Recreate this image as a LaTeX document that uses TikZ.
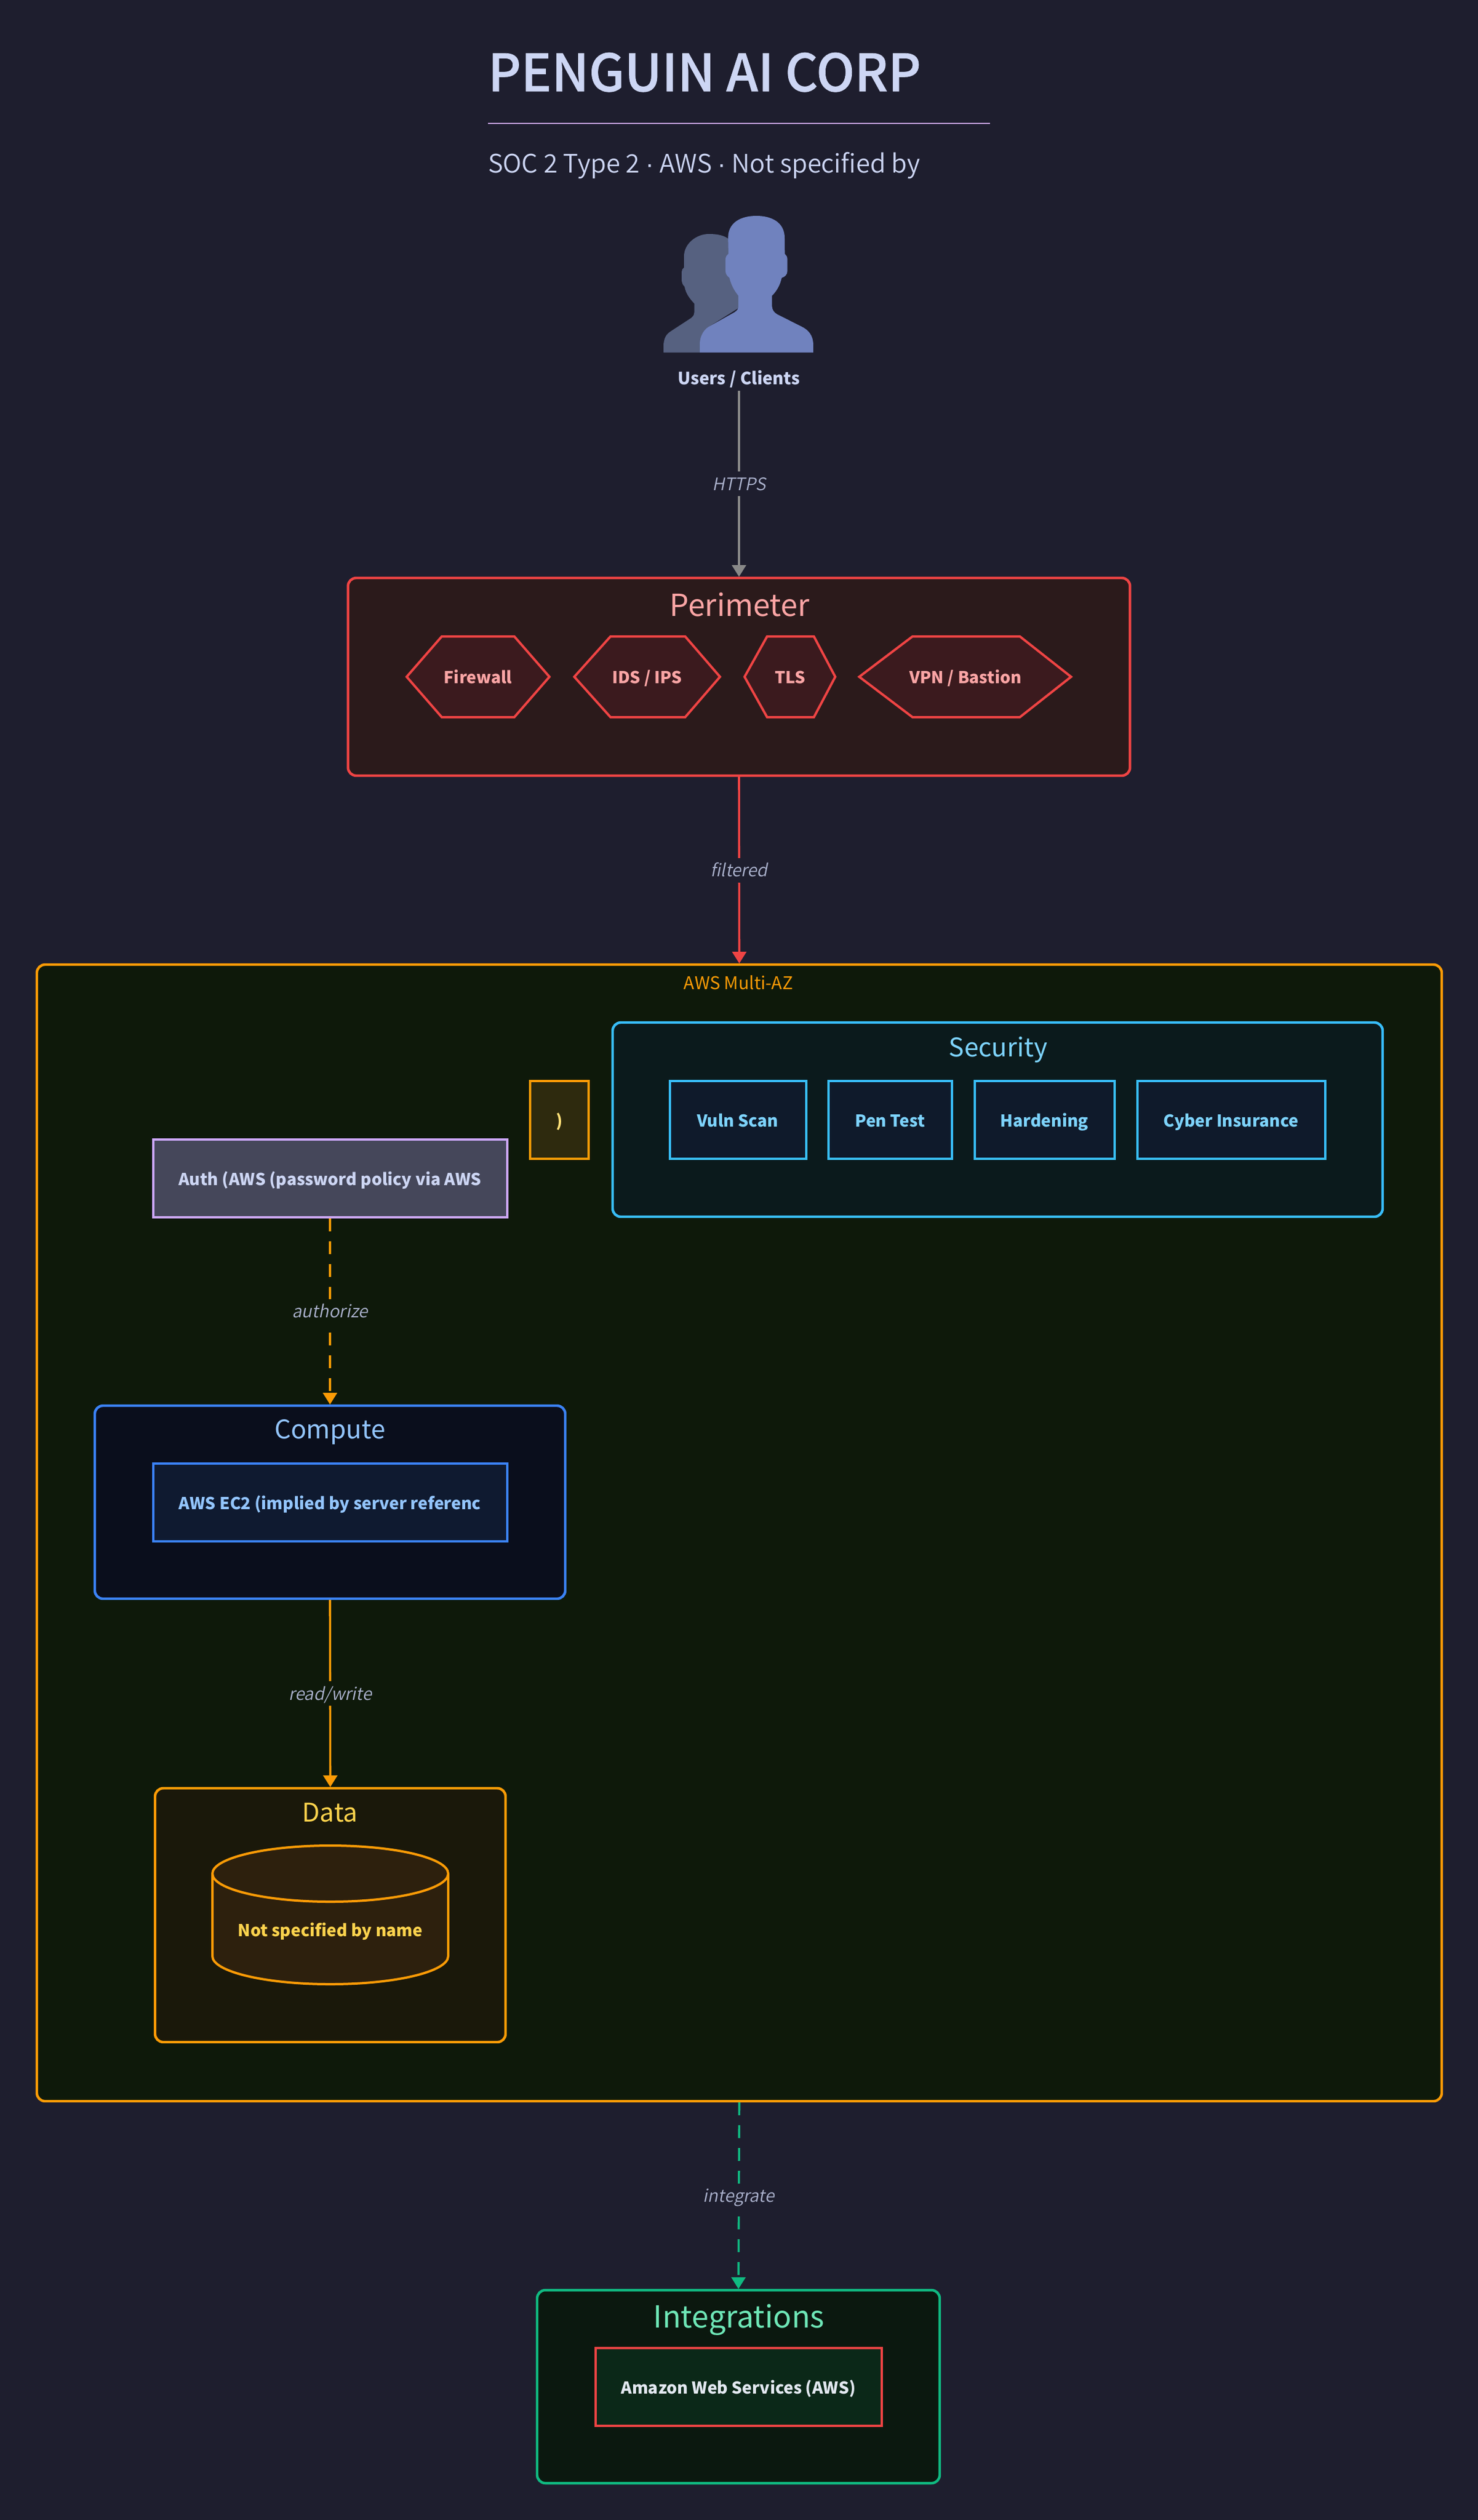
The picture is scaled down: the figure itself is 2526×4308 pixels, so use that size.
\documentclass[tikz,border=0pt]{standalone}
\usepackage{fontspec}
\usetikzlibrary{arrows.meta}
\setmainfont{Noto Sans CJK SC}
\newfontfamily\slantfont[FakeSlant=0.2]{Noto Sans CJK SC DemiLight}
\newfontfamily\titlefont[FakeStretch=0.988,FakeBold=0.8]{Noto Sans CJK SC Medium}
\newfontfamily\demifont{Noto Sans CJK SC DemiLight}
\newfontfamily\dotfont{Liberation Sans}
\definecolor{bgc}{HTML}{1E1E2E}
\definecolor{amber}{HTML}{FB9B06}
\definecolor{redc}{HTML}{EF4444}
\definecolor{skyc}{HTML}{38BDF8}
\definecolor{bluec}{HTML}{3B82F6}
\definecolor{greenc}{HTML}{10B981}
\definecolor{purplec}{HTML}{CBA6F7}
\definecolor{textc}{HTML}{CDD6F4}
\definecolor{labelc}{HTML}{ACB3CE}
\definecolor{grayc}{HTML}{888888}
\definecolor{hexfill}{HTML}{3B1A1E}
\definecolor{perimfill}{HTML}{2B1A1B}
\definecolor{perimtext}{HTML}{FCA5A5}
\definecolor{awsfill}{HTML}{0E190A}
\definecolor{secfill}{HTML}{0B1A1C}
\definecolor{skytext}{HTML}{7DD3FC}
\definecolor{itemblue}{HTML}{0F1A2B}
\definecolor{parenfill}{HTML}{2E2A0E}
\definecolor{parentext}{HTML}{FDE078}
\definecolor{authfill}{HTML}{45475A}
\definecolor{compfill}{HTML}{0A0E1C}
\definecolor{ecfill}{HTML}{0F1A30}
\definecolor{bluetext}{HTML}{93C5FD}
\definecolor{datafill}{HTML}{1A180A}
\definecolor{datatext}{HTML}{FCD34D}
\definecolor{cylfill}{HTML}{2D200D}
\definecolor{intfill}{HTML}{0B180F}
\definecolor{inttext}{HTML}{6EE7B7}
\definecolor{svcfill}{HTML}{0B2818}
\definecolor{svctext}{HTML}{E2E8F0}
\definecolor{iconback}{HTML}{566180}
\definecolor{iconfront}{HTML}{7082BE}
\newcommand{\fsz}[1]{\fontsize{#1}{#1}\selectfont}
\newcommand{\middot}{{\dotfont ·}}
\tikzset{
  group/.style={draw=#1,line width=4.4pt,rounded corners=14pt,rectangle,inner sep=0pt,outer sep=2pt},
  item/.style={draw=#1,line width=4pt,rectangle,inner sep=0pt,font=\fsz{28.2}\bfseries,text height=28pt,text depth=4pt},
  hexlabel/.style={inner sep=0pt,font=\fsz{28.2}\bfseries,text=#1,text height=28pt,text depth=4pt},
  hexline/.style={draw=redc,fill=hexfill,line width=4pt,line join=miter},
  grouptitle/.style={anchor=base,inner sep=0pt,font=\fsz{#1}},
  conn/.style={draw=#1,line width=3.6pt,-{Triangle[width=24pt,length=20pt,fill=#1]}},
  dashconn/.style={conn=#1,dash pattern=on 22pt off 17pt},
  lbl/.style={midway,fill=#1,font=\fsz{29.5}\slantfont,text=labelc,inner sep=4pt,text height=28pt,text depth=6pt},
}
\begin{document}
\begin{tikzpicture}[x=1pt,y=-1pt]
\useasboundingbox (0,0) rectangle (2526,4308);
\fill[bgc] (0,0) rectangle (2526,4308);

% header
\node[anchor=base west,inner sep=0pt,font=\fsz{88}\titlefont,text=textc] (title) at (834,156) {PENGUIN AI CORP};
\draw[purplec,line width=2.8pt] (834,211) -- (1692,211);
\node[anchor=base west,inner sep=0pt,font=\fsz{43.5}\demifont,text=textc] (subtitle) at (834,295) {SOC 2 Type 2 \middot{} AWS \middot{} Not specified by};

% users icon
\begin{scope}[shift={(1100,360)},x=0.3333pt,y=-0.3333pt]
\fill[iconback]
  (102,728) -- (102,690) .. controls (105,640) and (125,628) .. (150,612)
  -- (245,550) .. controls (258,538) and (260,530) .. (260,520) -- (260,477)
  .. controls (230,445) and (215,420) .. (210,390) .. controls (198,380) and (195,365) .. (195,350)
  -- (195,315) .. controls (195,305) and (200,297) .. (207,292) -- (207,235)
  .. controls (207,170) and (270,120) .. (335,120) .. controls (385,120) and (420,130) .. (440,150)
  -- (490,440) -- (486,500) -- (335,595) -- (288,728) -- cycle;
\fill[iconfront]
  (288,728) -- (288,680) .. controls (290,640) and (310,610) .. (335,595)
  -- (465,522) .. controls (480,512) and (486,505) .. (486,490) -- (486,437)
  .. controls (465,410) and (450,385) .. (440,345) .. controls (428,335) and (420,325) .. (420,310)
  -- (420,250) .. controls (420,238) and (425,230) .. (435,222) -- (433,140)
  .. controls (433,60) and (500,27) .. (578,27) .. controls (656,27) and (723,60) .. (723,140)
  -- (724,222) .. controls (732,228) and (737,238) .. (737,250) -- (737,310)
  .. controls (737,328) and (725,340) .. (708,345) .. controls (700,380) and (685,410) .. (658,437)
  -- (658,490) .. controls (660,510) and (668,522) .. (685,532)
  -- (810,595) .. controls (845,612) and (870,640) .. (870,690) -- (870,728) -- cycle;
\end{scope}
\node[inner sep=0pt,font=\fsz{29}\bfseries,text=textc,minimum height=46pt,text height=28pt,text depth=4pt] (users) at (1263,645) {Users / Clients};

% perimeter
\node[group=redc,fill=perimfill,minimum width=1336.5pt,minimum height=338pt] (perimeter) at (1263,1157) {};
\node[grouptitle=52,text=perimtext] (perimetertitle) at (1264,1053) {Perimeter};
\draw[hexline] (695,1157) -- (755,1088) -- (879,1088) -- (939,1157) -- (879,1226) -- (755,1226) -- cycle;
\node[hexlabel=perimtext] (firewall) at (817,1156) {Firewall};
\draw[hexline] (981.5,1157) -- (1043.4,1088) -- (1171,1088) -- (1230.5,1157) -- (1171,1226) -- (1043.4,1226) -- cycle;
\node[hexlabel=perimtext] (ids) at (1106,1156) {IDS / IPS};
\draw[hexline] (1272.5,1157) -- (1311,1088) -- (1391,1088) -- (1427.5,1157) -- (1391,1226) -- (1311,1226) -- cycle;
\node[hexlabel=perimtext] (tls) at (1350,1156) {TLS};
\draw[hexline] (1468.5,1157) -- (1559.5,1088) -- (1743,1088) -- (1830.5,1157) -- (1743,1226) -- (1559.5,1226) -- cycle;
\node[hexlabel=perimtext] (vpn) at (1650,1156) {VPN / Bastion};

% AWS
\node[group=amber,fill=awsfill,minimum width=2401pt,minimum height=1943pt] (aws) at (1263.5,2620.5) {};
\node[grouptitle=30,text=amber] (awstitle) at (1262,1691) {AWS Multi-AZ};

% security
\node[group=skyc,fill=secfill,minimum width=1316pt,minimum height=332pt] (security) at (1705,1914) {};
\node[grouptitle=44,text=skytext] (securitytitle) at (1706,1806) {Security};
\node[item=skyc,fill=itemblue,text=skytext,minimum width=233pt,minimum height=133pt] (vuln) at (1261,1914) {Vuln Scan};
\node[item=skyc,fill=itemblue,text=skytext,minimum width=211pt,minimum height=133pt] (pen) at (1521,1914) {Pen Test};
\node[item=skyc,fill=itemblue,text=skytext,minimum width=239pt,minimum height=133pt] (hard) at (1785,1914) {Hardening};
\node[item=skyc,fill=itemblue,text=skytext,minimum width=321pt,minimum height=133pt] (cyber) at (2104,1914) {Cyber Insurance};

% paren box
\node[item=amber,fill=parenfill,text=parentext,minimum width=100pt,minimum height=133pt] (paren) at (956,1914) {)};

% auth
\node[item=purplec,fill=authfill,text=textc,minimum width=605pt,minimum height=133pt] (auth) at (564,2014) {Auth (AWS (password policy via AWS};

% compute
\node[group=bluec,fill=compfill,minimum width=804pt,minimum height=330pt] (compute) at (564,2568) {};
\node[grouptitle=44,text=bluetext] (computetitle) at (564,2459) {Compute};
\node[item=bluec,fill=ecfill,text=bluetext,minimum width=605pt,minimum height=133pt] (ec2) at (564,2568) {AWS EC2 (implied by server referenc};

% data
\node[group=amber,fill=datafill,minimum width=599pt,minimum height=434pt] (data) at (564.5,3274) {};
\node[grouptitle=44,text=datatext] (datatitle) at (564,3114) {Data};
\draw[amber,fill=cylfill,line width=4pt] (363,3203) -- (363,3344) arc[start angle=180,end angle=360,x radius=201.5pt,y radius=48pt] -- (766,3203) arc[start angle=0,end angle=180,x radius=201.5pt,y radius=48pt] -- cycle;
\draw[amber,line width=4pt] (363,3203) arc[start angle=180,end angle=360,x radius=201.5pt,y radius=48pt];
\node[inner sep=0pt,font=\fsz{28.2}\bfseries,text=datatext,text height=28pt,text depth=4pt] (dbname) at (564.5,3298) {Not specified by name};

% integrations
\node[group=greenc,fill=intfill,minimum width=688pt,minimum height=330pt] (integrations) at (1262,4080) {};
\node[grouptitle=52,text=inttext] (integrationstitle) at (1263,3979) {Integrations};
\node[item=redc,fill=svcfill,text=svctext,minimum width=489pt,minimum height=133pt] (awsservices) at (1262,4080) {Amazon Web Services (AWS)};

% connectors
\draw[conn=grayc] (users.south) -- node[lbl=bgc]{HTTPS} (perimeter.north);
\draw[conn=redc] (perimeter.south) -- node[lbl=bgc]{filtered} (aws.north);
\draw[dashconn=amber] (auth.south) -- node[lbl=awsfill]{authorize} (compute.north);
\draw[conn=amber] (compute.south) -- node[lbl=awsfill]{read/write} (data.north);
\draw[dashconn=greenc] (aws.south) -- node[lbl=bgc]{integrate} (integrations.north);
\end{tikzpicture}
\end{document}
